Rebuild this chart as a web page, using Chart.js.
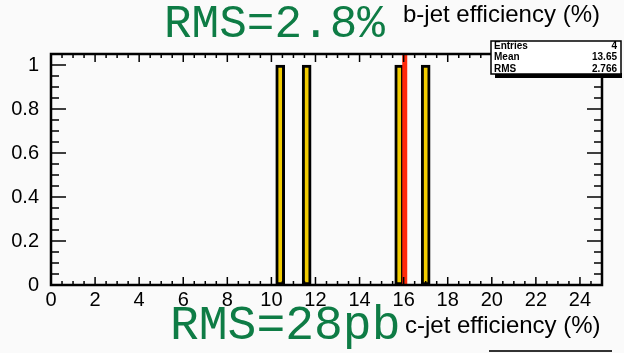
<!DOCTYPE html>
<html>
<head>
<meta charset="utf-8">
<script src="https://cdn.jsdelivr.net/npm/chart.js@4.4.1/dist/chart.umd.min.js"></script>
<style>
  html, body { margin: 0; padding: 0; background: #fafafa; }
  #wrap { width: 624px; height: 353px; }
</style>
</head>
<body>
<div id="wrap"><canvas id="c" width="624" height="353"></canvas></div>
<script>
// ----- data -----
const binCenters = [10.4, 11.6, 15.8, 17.0];
const binCounts = [1, 1, 1, 1];
const refX = [16.05, 16.05];   // red reference line
const refY = [0, 1.05];
const xTicks = [0, 2, 4, 6, 8, 10, 12, 14, 16, 18, 20, 22, 24];
const yTicks = [0, 0.2, 0.4, 0.6, 0.8, 1];
const statNames = ["Entries", "Mean", "RMS"];
const statValues = ["4", "13.65", "2.766"];

const SANS = "'Liberation Sans', Arial, Helvetica, sans-serif";
const MONO = "'Liberation Mono', 'Courier New', monospace";

// ROOT style frame with inner ticks on all four sides
const rootFrame = {
  id: 'rootFrame',
  afterDatasetsDraw(chart) {
    const { ctx, chartArea: a, scales: { x, y } } = chart;
    ctx.save();
    ctx.strokeStyle = '#000';
    ctx.lineWidth = 1.5;
    ctx.beginPath();
    for (let i = 0; i <= 50; i++) {
      const px = x.getPixelForValue(i * 0.5);
      const len = (i % 4 === 0) ? 8 : 4;
      ctx.moveTo(px, a.bottom); ctx.lineTo(px, a.bottom - len);
      ctx.moveTo(px, a.top); ctx.lineTo(px, a.top + len);
    }
    for (let i = 0; i <= 21; i++) {
      const py = y.getPixelForValue(i * 0.05);
      const len = (i % 4 === 0) ? 15 : 8;
      ctx.moveTo(a.left, py); ctx.lineTo(a.left + len, py);
      ctx.moveTo(a.right, py); ctx.lineTo(a.right - len, py);
    }
    ctx.stroke();
    ctx.lineWidth = 2.5;
    ctx.strokeRect(a.left, a.top, a.right - a.left, a.bottom - a.top);
    ctx.restore();
  },
  afterDraw(chart) {
    const ctx = chart.ctx;
    ctx.save();
    // stats box with shadow
    ctx.fillStyle = '#000';
    ctx.fillRect(495, 73, 127, 5);
    ctx.fillStyle = '#fff';
    ctx.fillRect(491, 41, 130, 33);
    ctx.strokeStyle = '#000';
    ctx.lineWidth = 1.5;
    ctx.strokeRect(491, 41, 130, 33);
    ctx.fillStyle = '#000';
    ctx.font = "bold 10px " + SANS;
    ctx.textBaseline = 'middle';
    statNames.forEach((n, i) => {
      ctx.textAlign = 'left';
      ctx.fillText(n, 494, 46 + i * 11.5);
      ctx.textAlign = 'right';
      ctx.fillText(statValues[i], 617, 46 + i * 11.5);
    });
    // axis titles
    ctx.textAlign = 'left';
    ctx.textBaseline = 'alphabetic';
    ctx.font = "24px " + SANS;
    ctx.fillText("b-jet efficiency (%)", 403, 22);
    ctx.fillText("c-jet efficiency (%)", 405, 333);
    // green annotations
    ctx.fillStyle = '#0e7c45';
    ctx.font = "46px " + MONO;
    ctx.fillText("RMS=2.8%", 164, 37);
    ctx.font = "48px " + MONO;
    ctx.fillText("RMS=28pb", 170, 339);
    // edge of a box below
    ctx.strokeStyle = '#333';
    ctx.lineWidth = 2;
    ctx.beginPath();
    ctx.moveTo(489, 351); ctx.lineTo(612, 351);
    ctx.stroke();
    ctx.restore();
  }
};

new Chart(document.getElementById('c'), {
  data: {
    datasets: [
      {
        type: 'line',
        data: refX.map((v, i) => ({ x: v, y: refY[i] })),
        borderColor: '#ff2a0a',
        borderWidth: 5,
        pointRadius: 0,
        order: 0
      },
      {
        type: 'bar',
        data: binCenters.map((v, i) => ({ x: v, y: binCounts[i] })),
        backgroundColor: '#f2cc00',
        borderColor: '#000',
        borderWidth: 3,
        borderSkipped: false,
        barThickness: 9,
        order: 1
      }
    ]
  },
  options: {
    responsive: false,
    animation: false,
    devicePixelRatio: 1,
    layout: { padding: { left: 0, right: 22, top: 54, bottom: 38 } },
    plugins: { legend: { display: false }, tooltip: { enabled: false } },
    scales: {
      x: {
        type: 'linear',
        min: 0, max: 25,
        offset: false,
        grid: { display: false },
        border: { display: false },
        afterBuildTicks: s => { s.ticks = xTicks.map(v => ({ value: v })); },
        afterFit: s => { s.height = 30; },
        ticks: { color: '#000', padding: -5, maxRotation: 0, autoSkip: false,
                 font: { family: SANS, size: 20 }, callback: v => String(v) }
      },
      y: {
        type: 'linear',
        min: 0, max: 1.05,
        grid: { display: false },
        border: { display: false },
        afterBuildTicks: s => { s.ticks = yTicks.map(v => ({ value: v })); },
        afterFit: s => { s.width = 51; },
        ticks: { color: '#000', padding: 4, autoSkip: false,
                 font: { family: SANS, size: 20 }, callback: v => String(v) }
      }
    }
  },
  plugins: [rootFrame]
});
</script>
</body>
</html>
